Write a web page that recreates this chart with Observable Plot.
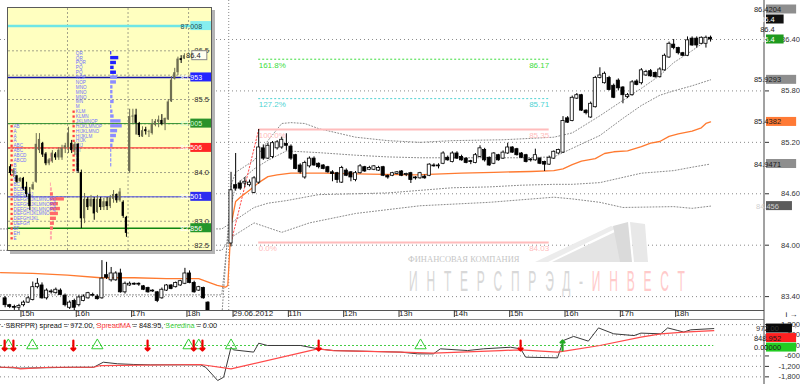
<!DOCTYPE html>
<html><head><meta charset="utf-8">
<script src="https://cdn.jsdelivr.net/npm/d3@7"></script>
<script src="https://cdn.jsdelivr.net/npm/@observablehq/plot@0.6"></script>
<style>
body{margin:0;background:#fff;}
#wrap{position:relative;width:800px;height:384px;overflow:hidden;font-family:'Liberation Sans',Arial,sans-serif;background:#fff;}
#main,#sub,#wm{position:absolute;left:0;}
#main{top:0;} #sub{top:319px;} #wm{top:0;pointer-events:none;}
#inset{position:absolute;left:7px;top:7px;width:203px;height:242px;border:1px solid #5a5a5a;box-shadow:3px 3px 0 #b4b4b4;background:#ffffc0;overflow:hidden;}
#legend{position:absolute;left:1px;top:321px;font-size:7.3px;color:#222;white-space:nowrap;}
</style></head><body>
<div id="wrap">
  <div id="main"></div>
  <svg id="wm" width="800" height="319">
    <g>
      <polygon points="535,262 611,226 617,228 548,262" fill="#ececec"/>
      <polygon points="552,262 619,230 622,262" fill="#e4e4e4"/>
      <polygon points="613,226 628,222 632,262 620,262" fill="#dadada"/>
      <polygon points="630,222 645,224 648,262 634,262" fill="#e8e8e8"/>
    </g>
    <text x="408" y="262" font-family="'Liberation Serif',serif" font-size="8.5" fill="#c6c6c6">ФИНАНСОВАЯ КОМПАНИЯ</text>
    <text transform="translate(409,291) scale(0.4,1)" font-family="'Liberation Sans',sans-serif" font-size="30" letter-spacing="22" fill="#d8d8d8">ИНТЕРСПРЭД-<tspan fill="#ffcaca">ИНВЕСТ</tspan></text>
  </svg>
  <div id="inset"></div>
  <div id="sub"></div>
  <div id="legend"></div>
</div>
<script>
const FONT = "'Liberation Sans', Arial, sans-serif";

// ---------- main price panel ----------
const priceTicks = [83.4, 84.0, 84.6, 85.2, 85.8, 86.4];
const hourTickIdx = [4, 16, 28, 40, 50, 62, 74, 86, 98, 110, 122, 134, 146];
const hourTickLabels = ["15h","16h","17h","18h","29.06.2012","11h","12h","13h","14h","15h","16h","17h","18h"];
const dayBreak = [49.5];

const barIdx = d3.range(1, 49).concat(d3.range(50, 155));
const barOpen = [83.38,83.30,83.28,83.27,83.30,83.33,83.36,83.51,83.53,83.38,83.45,83.44,83.47,83.41,83.27,83.35,83.30,83.35,83.38,83.41,83.40,83.38,83.65,83.59,83.59,83.67,83.45,83.53,83.55,83.55,83.52,83.50,83.46,83.45,83.38,83.47,83.53,83.51,83.53,83.55,83.67,83.56,83.47,83.50,83.33,83.15,83.00,82.85,
 84.02,84.70,84.72,84.72,84.70,84.61,84.73,85.13,85.01,85.03,85.13,85.14,85.18,85.15,85.05,84.93,84.79,84.92,85.01,84.95,84.93,84.91,84.85,84.84,84.73,84.87,84.85,84.76,84.84,84.91,84.88,84.88,84.87,84.91,84.81,84.81,84.83,84.86,84.82,84.84,84.79,84.78,84.80,84.81,84.93,84.92,84.95,85.02,84.97,85.07,85.03,85.01,84.98,84.96,85.03,85.11,85.02,84.95,85.05,85.01,85.07,85.14,85.12,85.07,85.05,85.00,84.99,85.01,84.97,84.94,85.01,85.07,85.08,85.48,85.45,85.71,85.75,85.57,85.49,85.61,85.95,85.89,85.95,85.86,85.92,85.84,85.73,85.75,85.91,85.89,85.98,86.03,86.01,85.96,86.04,86.19,86.34,86.30,86.24,86.21,86.41,86.41,86.35,86.35,86.42];
const barHigh = [83.40,83.31,83.30,83.31,83.35,83.40,83.57,83.61,83.56,83.49,83.48,83.50,83.49,83.43,83.35,83.37,83.41,83.42,83.45,83.44,83.42,83.82,83.80,83.74,83.69,83.72,83.57,83.57,83.56,83.56,83.53,83.51,83.48,83.46,83.50,83.54,83.54,83.57,83.59,83.73,83.70,83.58,83.52,83.51,83.34,83.18,83.05,82.95,
 84.85,85.07,84.75,84.79,84.76,84.80,85.35,85.17,85.19,85.21,85.22,85.26,85.30,85.17,85.06,84.95,84.98,85.03,85.03,84.96,84.94,84.92,84.87,84.85,84.92,84.89,84.86,84.86,84.94,84.92,84.92,84.93,84.92,84.92,84.82,84.85,84.86,84.87,84.84,84.85,84.80,84.85,84.82,84.95,84.95,84.95,85.09,85.04,85.09,85.09,85.05,85.02,84.99,85.07,85.16,85.13,85.03,85.08,85.06,85.10,85.19,85.15,85.13,85.08,85.06,85.01,85.12,85.02,84.98,85.04,85.10,85.12,85.50,85.50,85.74,85.77,85.76,85.58,85.67,85.97,86.07,86.02,85.97,85.88,85.94,85.85,85.77,85.92,85.93,86.06,86.04,86.05,86.02,86.07,86.23,86.37,86.40,86.31,86.25,86.43,86.43,86.43,86.43,86.44,86.44];
const barLow = [83.27,83.26,83.24,83.23,83.28,83.32,83.35,83.49,83.37,83.36,83.43,83.43,83.41,83.28,83.25,83.21,83.28,83.34,83.37,83.40,83.36,83.37,83.60,83.57,83.58,83.44,83.43,83.52,83.53,83.52,83.47,83.44,83.45,83.33,83.37,83.46,83.48,83.50,83.52,83.54,83.55,83.44,83.46,83.37,83.12,82.95,82.80,82.70,
 83.98,84.63,84.64,84.67,84.68,84.60,84.71,84.99,85.00,85.01,85.11,85.12,85.10,84.99,84.88,84.83,84.77,84.90,84.92,84.89,84.88,84.84,84.74,84.72,84.72,84.80,84.74,84.74,84.83,84.85,84.87,84.87,84.86,84.80,84.77,84.80,84.82,84.80,84.80,84.72,84.76,84.77,84.77,84.80,84.91,84.89,84.94,84.98,84.96,85.00,84.98,84.95,84.94,84.95,85.02,84.97,84.92,84.94,84.98,85.00,85.06,85.07,85.04,85.01,84.96,84.97,84.98,84.94,84.86,84.93,85.00,85.06,85.07,85.42,85.44,85.70,85.56,85.52,85.48,85.60,85.94,85.88,85.80,85.71,85.80,85.65,85.71,85.74,85.86,85.87,85.97,85.96,85.95,85.95,86.03,86.18,86.28,86.22,86.20,86.20,86.32,86.30,86.34,86.30,86.37];
const barClose = [83.30,83.28,83.27,83.29,83.33,83.38,83.51,83.55,83.38,83.47,83.46,83.48,83.42,83.30,83.33,83.27,83.39,83.40,83.44,83.42,83.37,83.61,83.62,83.67,83.67,83.45,83.55,83.55,83.54,83.54,83.48,83.45,83.47,83.35,83.48,83.53,83.49,83.56,83.58,83.67,83.56,83.45,83.51,83.38,83.15,83.00,82.85,82.90,
 84.64,84.66,84.66,84.74,84.73,84.78,85.14,85.01,85.16,85.19,85.20,85.23,85.16,85.01,84.89,84.85,84.96,85.01,84.93,84.91,84.89,84.85,84.83,84.76,84.90,84.81,84.79,84.84,84.92,84.86,84.90,84.92,84.90,84.81,84.79,84.84,84.85,84.81,84.83,84.76,84.78,84.84,84.78,84.94,84.92,84.93,85.07,84.99,85.07,85.01,84.99,84.96,84.97,85.05,85.13,84.99,84.93,85.07,84.99,85.08,85.14,85.08,85.05,85.02,84.97,84.99,85.05,84.95,84.94,85.02,85.09,85.11,85.45,85.43,85.72,85.75,85.57,85.54,85.65,85.95,85.98,86.00,85.81,85.72,85.83,85.75,85.75,85.90,85.87,86.04,86.02,85.97,85.96,86.05,86.21,86.35,86.30,86.24,86.21,86.39,86.33,86.33,86.42,86.42,86.40];

// centre line (orange) and dotted envelope lines, [bar index, price]
const centreLine = [[0,83.68],[7,83.67],[14.5,83.65],[21.7,83.62],[29,83.62],[36,83.61],[43,83.61],[45.5,83.56],[47,83.53],[48.8,83.51],[49.3,83.53],[50,84.23],[51,84.51],[52,84.56],[54,84.64],[56,84.73],[58,84.80],[60,84.82],[63,84.84],[70,84.84],[80,84.83],[90,84.82],[100,84.84],[107,84.85],[115,84.86],[120,84.87],[122,84.89],[124,84.94],[126,84.98],[129,85.01],[131,85.07],[133,85.09],[136,85.10],[139,85.15],[141,85.19],[143,85.21],[145,85.27],[147,85.30],[150,85.33],[152,85.37],[153,85.42],[154,85.4382]];
const envelopeA = [[0,84.19],[48,84.19],[50,84.26],[55,84.44],[58,84.49],[62,84.52],[69,84.59],[77,84.60],[84,84.61],[91,84.64],[98,84.67],[106,84.68],[113,84.70],[120,84.71],[124,84.71],[130,84.73],[139,84.84],[146,84.87],[150,84.91],[154,84.9471]];
const envelopeB = [[0,83.94],[48,83.94],[50,84.09],[55,84.26],[61,84.15],[67,84.26],[77,84.37],[91,84.46],[106,84.50],[120,84.56],[124,84.54],[130,84.50],[135,84.44],[146,84.45],[150,84.43],[154,84.456]];
const envelopeC = [[0,83.42],[48,83.42],[50,84.46],[51,84.70],[55,84.89],[58,84.99],[62,85.10],[69,85.08],[77,85.05],[84,85.03],[91,85.02],[98,85.02],[106,85.02],[113,85.02],[120,85.03],[124,85.13],[130,85.28],[135,85.48],[139,85.63],[143,85.75],[146,85.80],[150,85.86],[154,85.9293]];
const envelopeD = [[0,83.17],[48,83.17],[50,84.70],[51,84.85],[55,84.99],[58,85.22],[61,85.42],[63,85.43],[66,85.42],[69,85.36],[77,85.26],[84,85.22],[91,85.20],[98,85.22],[109,85.23],[120,85.26],[124,85.31],[130,85.51],[135,85.69],[139,85.83],[143,85.98],[146,86.13],[150,86.27],[154,86.4204]];

// Fibonacci extension
const fibLevels = [161.8, 127.2, 100.0, 0.0];
const fibPrices = [86.17, 85.71, 85.35, 84.03];
const fibColors = ["#3ddc3d", "#4fd3d3", "#ffbcbc", "#ffbcbc"];
const fibStart = 56, fibEnd = 119, fibAnchorIdx = 50;

// right-hand price tags
const tagValues = [86.4204, 86.4, 86.4, 86.4, 85.9293, 85.4382, 84.9471, 84.456];
const tagTexts = ["86.4204","86.4","86.4","86.4","85.9293","85.4382","84.9471","84.456"];
const tagBg = ["#8e8e8e","#101010","none","#1f9a1f","#8e8e8e","#ff7a35","#8e8e8e","#5c5c5c"];
const tagFg = ["#1a1a1a","#ffffff","#222222","#ffffff","#1a1a1a","#1a1a1a","#1a1a1a","#cfcfcf"];

// ---------- spread panel ----------
const spreadTicks = [1200, 600, 0, -600, -1200, -1800];
const spreadIdx = [0,4.3,15.8,20.2,22.3,25.4,28.9,32.5,43.4,44.5,47.1,48.4,50,50.5,54.9,56,57.9,65.1,68.8,72.2,86.8,90.5,93.9,95.4,101.3,104.8,110.6,112.8,113.9,120.8,122.1,124.3,127.5,129.7,133,137.4,138.9,143.2,144.7,146.9,148.2,149.7,154.7];
const spreadVal = [-1250,-1300,-1250,-1250,-960,-1050,-1090,-1110,-1110,-1250,-2010,-1820,-100,-250,-380,130,0,0,-190,-290,-380,-480,-480,-190,-290,-190,-100,-190,-670,-710,290,520,250,1010,670,570,710,670,1010,860,770,900,972];
const maIdx = [0,2.8,4.3,10.8,20.2,21.7,43.4,50,68.8,72.2,86.8,93.9,108.5,112.8,120.8,123,130,138.9,143.2,148.2,154.7];
const maVal = [-1250,-1250,-1340,-1250,-1250,-1150,-1090,-1340,-190,-290,-380,-440,-290,-250,-380,-290,0,480,670,765,848.952];
const sellSignals = [0.9, 2.8, 15.8, 31.9, 41.9, 43.8, 69, 112.8];
const flatSignals = [1.7, 6.9, 21, 40.8, 43, 50, 91.1];
const buySignals = [121.9];
const spreadLast = 972.00, maLast = 848.952, seredina = 0.00;

// ---------- inset (30-minute chart) ----------
const insetIdx = d3.range(0, 55);
const insetOpen = [84.12,83.98,83.93,83.81,83.88,83.70,83.55,83.65,83.80,84.45,84.60,84.38,84.18,84.22,84.38,84.30,84.30,84.50,
 84.50,84.60,84.45,84.58,84.00,83.05,83.45,83.30,83.45,83.18,83.45,83.28,83.40,83.30,83.45,83.55,83.42,83.39,83.08,
 84.02,85.14,85.18,85.01,84.73,84.88,84.83,84.80,84.97,85.03,85.07,84.99,85.08,85.45,85.92,86.05,86.34,86.33];
const insetHigh = [84.16,84.08,83.94,83.90,83.90,83.80,83.69,83.80,84.80,84.80,84.62,84.41,84.29,84.45,84.41,84.51,84.56,84.60,
 84.93,84.66,84.62,84.60,84.05,83.57,83.49,83.53,83.49,83.53,83.49,83.47,83.49,83.53,83.63,83.56,83.67,83.42,83.10,
 85.30,85.30,85.30,85.03,84.94,84.93,84.87,85.09,85.09,85.16,85.19,85.12,85.50,85.97,86.14,86.37,86.40,86.44];
const insetLow = [83.94,83.90,83.78,83.80,83.63,83.49,83.22,83.63,83.78,84.39,84.31,84.14,84.14,84.19,84.25,84.25,84.25,84.39,
 84.39,84.39,84.35,83.98,82.85,82.95,83.22,83.28,83.02,83.16,83.22,83.22,83.22,83.26,83.37,83.37,83.39,83.06,82.67,
 83.98,84.99,84.77,84.72,84.72,84.77,84.72,84.77,84.94,84.92,84.96,84.86,85.07,85.44,85.90,85.99,86.24,86.32];
const insetClose = [83.98,84.04,83.80,83.88,83.66,83.55,83.30,83.75,84.58,84.68,84.36,84.18,84.26,84.40,84.30,84.46,84.50,84.55,
 84.80,84.45,84.58,84.02,83.05,83.45,83.28,83.45,83.15,83.45,83.28,83.40,83.30,83.48,83.55,83.42,83.60,83.10,82.75,
 85.15,85.16,85.01,84.76,84.86,84.84,84.84,84.99,85.05,85.08,84.99,85.11,85.45,85.90,86.05,86.33,86.30,86.40];
const insetDaySep = [17.7, 36.5, 55.3];
const insetGrid = [82.5,83.0,83.5,84.0,84.5,85.0,85.5,86.0,86.5,87.0];
const insetGridLabels = [86.5, 85.5, 84.0, 83.0, 82.5];
const insetLevels = [87.008, 85.953, 85.005, 84.506, 83.501, 82.856];
const insetLevelColor = ["#6fe6e6","#1212a8","#2f8f2f","#ff3a3a","#4848e0","#0f860f"];
const insetLevelWidth = [2.5, 1.6, 1, 1.2, 1, 1.6];
const insetTagBg = ["#86eeee","#2323ff","#2a922a","#ff2626","#2c2cf0","#23962a"];
const insetTagFg = ["#205050","#ffffff","#d8ffd8","#ffffff","#ffffff","#ffffff"];
const insetLast = 86.4;

const profAPrice = [84.95,84.85,84.75,84.65,84.55,84.45,84.35,84.25,84.15,84.05,83.95,83.85,83.75,83.65,83.55,83.45,83.35,83.25,83.15,83.05,82.95,82.85,82.75,82.65];
const profAText = ["AB","A","A","A","ABC","ABC","ABCD","ABCD","B","B","B","B","BC","BCDE","DEFGHIJ","DEFGHIJKLMNOPQ","DEFGHIJKLMNOPQ","DEFGHIJKLMNOPQ","DEFGHIJKLMNO","DEFGHIJKL","DEFGH","EF","EH","E"];
const profAVol = [0,0,0,0,0,0,1,1,0,0,0,0,1,2,3,14,8,10,8,6,4,3,2,2];
const profBPrice = [86.45,86.35,86.25,86.15,86.05,85.95,85.85,85.75,85.65,85.55,85.45,85.35,85.25,85.15,85.05,84.95,84.85,84.75,84.65,84.55,84.45,84.35,84.25,84.15,84.05];
const profBText = ["QR","QR","PQR","PQ","PQ","NOP","NOP","MNO","MNO","MNO","MN","M","KLM","KLMN","JKLMNOP","HIJKLMNOP","HIJKLMNO","HIJKLM","HIJK","HIJ","HI","H","H","H","H"];
const profBVol = [1,7,5,3,5,6,5,2,2,2,3,1,2,3,9,10,6,5,3,2,1,1,1,1,0];

// ======================================================
const candles = barIdx.map((i, k) => ({i, o: barOpen[k], h: barHigh[k], l: barLow[k], c: barClose[k]}));
const toPts = (arr, name) => arr.map(([i, p]) => ({i, p, band: name}));
const envelopes = [].concat(toPts(envelopeA,"A"), toPts(envelopeB,"B"), toPts(envelopeC,"C"), toPts(envelopeD,"D"));
const centre = toPts(centreLine, "mid");
const fib = fibLevels.map((lv, k) => ({lv, p: fibPrices[k], col: fibColors[k]}));
const fibDiag = [{i: fibAnchorIdx, p: fibPrices[3]}, {i: fibStart, p: fibPrices[2]}];
const labelOf = new Map(hourTickIdx.map((d, k) => [d, hourTickLabels[k]]));
const X_DOMAIN = [0, 165.7];
const Y_DOMAIN = [83.238, 86.855];

const main = Plot.plot({
  width: 800, height: 319, marginLeft: 0, marginRight: 36, marginTop: 0, marginBottom: 9,
  x: {domain: X_DOMAIN}, y: {domain: Y_DOMAIN}, color: {type: "identity"},
  style: {background: "#fff", fontFamily: FONT, fontSize: "8px", color: "#222"},
  marks: [
    Plot.ruleY(priceTicks, {stroke: "#8a8a8a", strokeDasharray: "1,3"}),
    Plot.ruleX(dayBreak, {stroke: "#8a8a8a", strokeDasharray: "1,2"}),
    Plot.line(envelopes, {x: "i", y: "p", z: "band", stroke: "#8a8a8a", strokeWidth: 1, strokeDasharray: "1,2", clip: true}),
    Plot.ruleY(fib.filter(d => d.lv > 100), {y: "p", x1: fibStart, x2: fibEnd, stroke: "col", strokeDasharray: "2,2"}),
    Plot.ruleY(fib.filter(d => d.lv <= 100), {y: "p", x1: fibStart, x2: fibEnd, stroke: "col", strokeWidth: 2}),
    Plot.text(fib, {x: fibStart, y: "p", text: d => d.lv.toFixed(1) + "%", textAnchor: "start", dy: 6, fill: "col", fontSize: 8}),
    Plot.text(fib, {x: fibEnd, y: "p", text: d => d.p.toFixed(2), textAnchor: "end", dy: 6, fill: "col", fontSize: 8}),
    Plot.line(fibDiag, {x: "i", y: "p", stroke: "#ff4a4a", strokeDasharray: "1.5,2", strokeWidth: 1}),
    Plot.line(centre, {x: "i", y: "p", stroke: "#ff7a30", strokeWidth: 1.3, clip: true}),
    Plot.ruleX(candles, {x: "i", y1: "l", y2: "h", stroke: "#000", strokeWidth: 1, clip: true}),
    Plot.rect(candles, {x1: d => d.i - 0.34, x2: d => d.i + 0.34, y1: "o", y2: "c", fill: d => d.c >= d.o ? "#fff" : "#000", stroke: "#000", strokeWidth: 0.8, clip: true}),
    Plot.ruleY([Y_DOMAIN[0]], {stroke: "#555"}),
    Plot.axisX({ticks: hourTickIdx, tickFormat: d => labelOf.get(d), tickSize: 7, tickPadding: -7, textAnchor: "start", dx: 2, fontSize: 8, fill: "#222", stroke: "#333"}),
    Plot.axisY({anchor: "right", ticks: priceTicks, tickFormat: d => d.toFixed(2), tickSize: 4, tickPadding: 31.5, textAnchor: "end", fontSize: 7.6, fill: "#333", stroke: "#333"})
  ]
});
document.getElementById("main").appendChild(main);

const spread = spreadIdx.map((i, k) => ({i, v: spreadVal[k]}));
const ma = maIdx.map((i, k) => ({i, v: maVal[k]}));
const sub = Plot.plot({
  width: 800, height: 65, marginLeft: 0, marginRight: 36, marginTop: 0, marginBottom: 0,
  x: {domain: X_DOMAIN, axis: null}, y: {domain: [-2239, 1492]}, color: {type: "identity"},
  style: {background: "#fff", fontFamily: FONT, fontSize: "8px", color: "#222"},
  marks: [
    Plot.ruleY(spreadTicks.filter(d => d !== 0), {stroke: "#8a8a8a", strokeDasharray: "1,3"}),
    Plot.ruleY([seredina], {x1: 0, x2: spreadIdx[spreadIdx.length - 1], stroke: "#44cc44", strokeDasharray: "2,2"}),
    Plot.line(spread, {x: "i", y: "v", stroke: "#3a3a3a", strokeWidth: 1}),
    Plot.line(ma, {x: "i", y: "v", stroke: "#ff4a4a", strokeWidth: 1.2}),
    Plot.dot(flatSignals, {x: d => d, y: seredina, symbol: "triangle", r: 4.2, stroke: "#33cc33", fill: "none", strokeWidth: 1}),
    Plot.vector(sellSignals, {x: d => d, y: seredina, rotate: 180, length: 10, stroke: "#ee0000", strokeWidth: 2.2, anchor: "middle"}),
    Plot.vector(buySignals, {x: d => d, y: seredina, rotate: 0, length: 10, stroke: "#22aa22", strokeWidth: 2.2, anchor: "middle"}),
    Plot.ruleY([1492], {stroke: "#888"}),
    Plot.axisY({anchor: "right", ticks: spreadTicks, tickFormat: d => d.toLocaleString("en-US"), tickSize: 4, tickPadding: 31.5, textAnchor: "end", fontSize: 7.6, fill: "#333", stroke: "#333"})
  ]
});
document.getElementById("sub").appendChild(sub);

// axis line on the right across both panels
for (const [svg, h] of [[main, 319], [sub, 65]]) {
  const xr = svg.scale("x").apply(X_DOMAIN[1]);
  d3.select(svg).append("line").attr("x1", xr).attr("x2", xr).attr("y1", 0).attr("y2", h).attr("stroke", "#444");
}

function drawTags(svg, yScale, tags, x0, dir, gap, fs) {
  const pos = tags.map((t, k) => ({...t, k, y: yScale.apply(t.v)}));
  if (dir === "up") pos.sort((a, b) => b.y - a.y || b.k - a.k);
  else pos.sort((a, b) => a.y - b.y || a.k - b.k);
  let prev = null;
  for (const t of pos) {
    if (prev !== null) t.y = dir === "up" ? Math.min(t.y, prev - gap) : Math.max(t.y, prev + gap);
    prev = t.y;
  }
  const g = d3.select(svg).append("g").attr("font-family", FONT).attr("font-size", fs);
  for (const t of pos) {
    const r = g.append("rect").attr("x", x0).attr("y", t.y - 4.5).attr("height", 9).attr("fill", t.bg === "none" ? "transparent" : t.bg);
    const tx = g.append("text").attr("x", x0 + 1.5).attr("y", t.y + 3).attr("fill", t.fg).text(t.text);
    r.attr("width", tx.node().getComputedTextLength() + 3);
  }
}
drawTags(main, main.scale("y"), tagValues.map((v, k) => ({v, text: tagTexts[k], bg: tagBg[k], fg: tagFg[k]})), 766, "up", 10, 7.5);
drawTags(sub, sub.scale("y"), [
  {v: spreadLast, text: spreadLast.toFixed(2), bg: "#0a0a0a", fg: "#333"},
  {v: maLast, text: maLast.toFixed(3), bg: "#ff2020", fg: "#1a1a1a"},
  {v: seredina, text: seredina.toFixed(5), bg: "#22cc22", fg: "#1a1a1a"}
], 766, "down", 9.5, 7.5);

document.getElementById("legend").innerHTML =
  `- SBRFPR) spread = ${spreadLast.toFixed(2)}, <span style="color:#ff3c3c">SpreadMA</span> = ${maLast.toFixed(2)}, <span style="color:#3fd43f">Seredina</span> = ${seredina.toFixed(2)}`;

// ---------- inset ----------
const ic = insetIdx.map((i, k) => ({i, o: insetOpen[k], h: insetHigh[k], l: insetLow[k], c: insetClose[k]}));
const profA = profAPrice.map((p, k) => ({p, s: profAText[k], n: profAVol[k]}));
const profB = profBPrice.map((p, k) => ({p, s: profBText[k], n: profBVol[k]}));
const lv = insetLevels.map((p, k) => ({p, col: insetLevelColor[k], w: insetLevelWidth[k]}));
const inset = Plot.plot({
  width: 203, height: 242, margin: 0,
  x: {domain: [-0.621, 62.42], axis: null}, y: {domain: [82.399, 87.369], axis: null}, color: {type: "identity"},
  style: {background: "#ffffc0", fontFamily: FONT, fontSize: "7.5px"},
  marks: [
    Plot.ruleY(insetGrid, {stroke: "#a3a38a", strokeDasharray: "2,2"}),
    Plot.ruleX(insetDaySep, {stroke: "#a3a38a", strokeDasharray: "2,2"}),
    ...lv.map(d => Plot.ruleY([d.p], {stroke: d.col, strokeWidth: d.w})),
    Plot.rect(profA.filter(d => d.n > 0), {x1: 12.4, x2: d => 12.4 + d.n * 0.31, y1: d => d.p - 0.035, y2: d => d.p + 0.035, fill: d => d.n >= 3 ? "#ff6a6a" : "#ffaaaa"}),
    Plot.rect(profB.filter(d => d.n > 0), {x1: 31.1, x2: d => 31.1 + d.n * 0.36, y1: d => d.p - 0.035, y2: d => d.p + 0.035, fill: (d, k) => k < 5 ? "#1f1fff" : "#8c8cff"}),
    Plot.dot(profA, {x: 0.35, y: "p", symbol: "square", r: 1.3, fill: "#ff4040"}),
    Plot.dot(profB.filter(d => d.p < 85.3), {x: 19.6, y: "p", symbol: "square", r: 1.3, fill: "#ff4040"}),
    Plot.text(profA, {x: 0.95, y: "p", text: "s", textAnchor: "start", fill: "#7070ff", fontSize: 4.6}),
    Plot.text(profB, {x: 20.3, y: "p", text: "s", textAnchor: "start", fill: "#7070ff", fontSize: 4.6}),
    Plot.ruleX(ic, {x: "i", y1: "l", y2: "h", stroke: d => d.c >= d.o ? "#6e6e52" : "#000", strokeWidth: 1}),
    Plot.rect(ic, {x1: d => d.i - 0.34, x2: d => d.i + 0.34, y1: "o", y2: "c", fill: d => d.c >= d.o ? "#6e6e52" : "#000"}),
    Plot.text(insetGridLabels, {x: 57.1, y: d => d, text: d => d.toFixed(1), textAnchor: "start", fill: "#333", fontSize: 7.5})
  ]
});
document.getElementById("inset").appendChild(inset);
{
  const ys = inset.scale("y"), xs = inset.scale("x");
  const g = d3.select(inset).append("g").attr("font-family", FONT).attr("font-size", 7);
  const x0 = xs.apply(56.0);
  insetLevels.forEach((p, k) => {
    const y = ys.apply(p);
    g.append("rect").attr("x", x0).attr("y", y - 4.5).attr("width", 30).attr("height", 9).attr("fill", insetTagBg[k]);
    g.append("text").attr("x", x0 + 1).attr("y", y + 3).attr("fill", insetTagFg[k]).text(p.toFixed(3));
  });
  const yl = ys.apply(insetLast);
  g.append("rect").attr("x", x0 + 1.5).attr("y", yl - 4.5).attr("width", 15).attr("height", 9).attr("fill", "#fffff0").attr("stroke", "#888");
  g.append("text").attr("x", x0 + 3).attr("y", yl + 3).attr("fill", "#222").attr("font-size", 7.5).text(insetLast.toFixed(1));
}
</script>
</body></html>
